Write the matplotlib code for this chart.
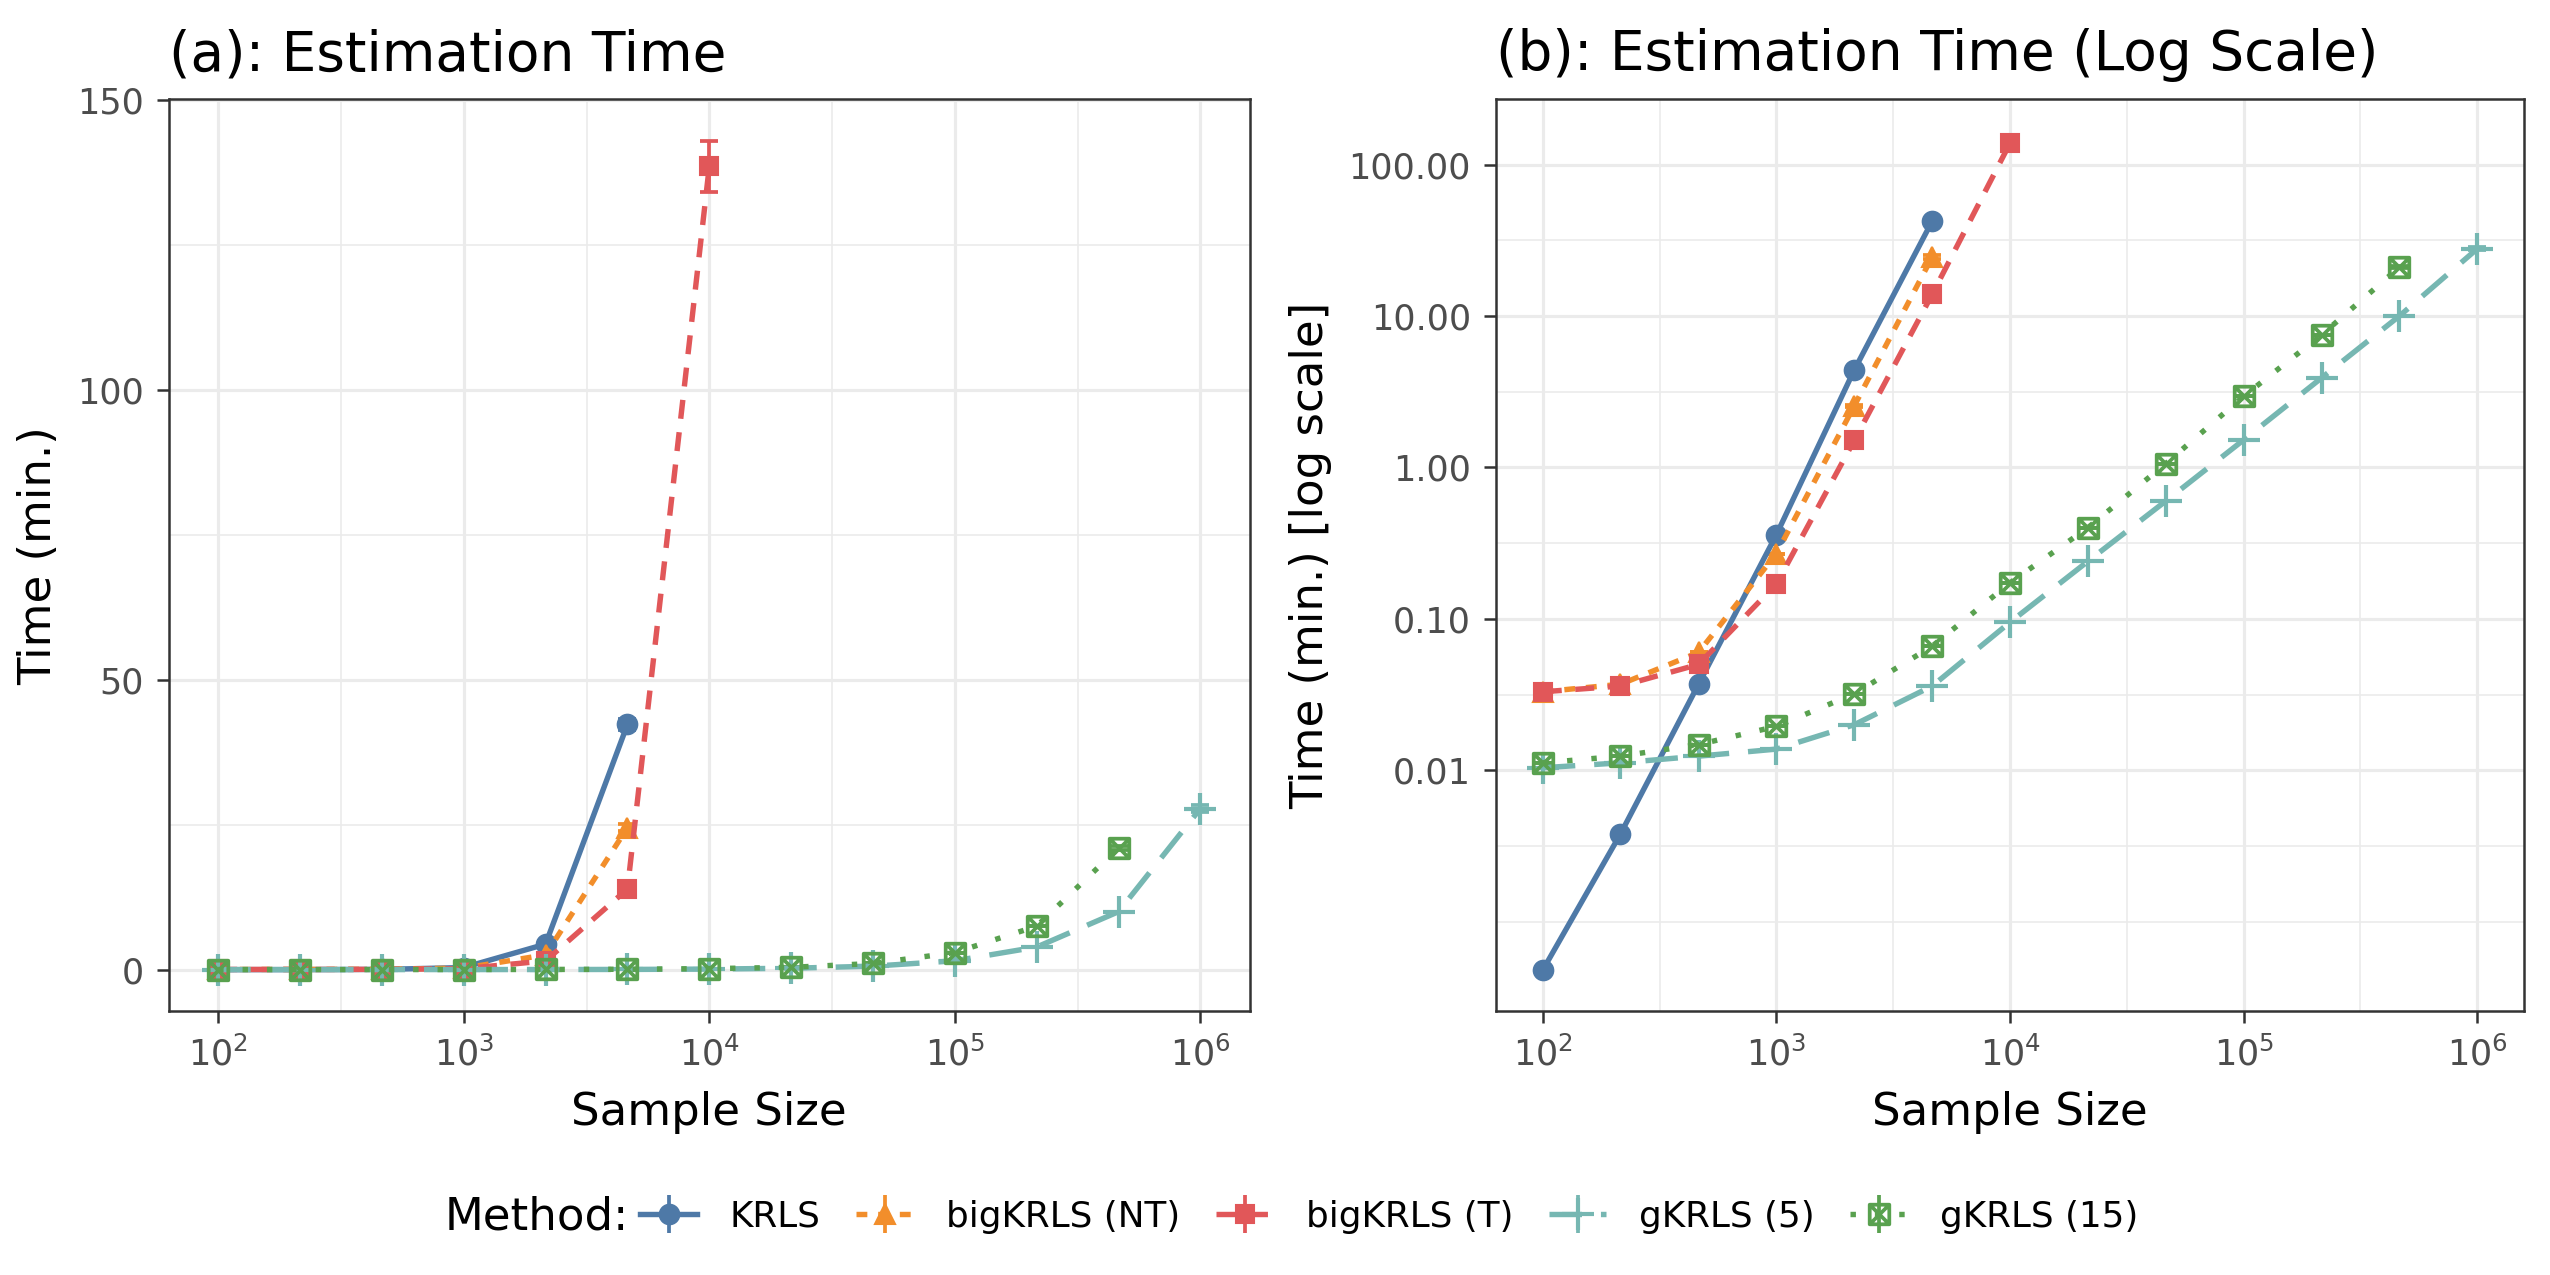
import matplotlib
matplotlib.use("Agg")
import matplotlib.pyplot as plt
from matplotlib.lines import Line2D
from matplotlib.path import Path
from matplotlib.ticker import FixedLocator, FixedFormatter, NullFormatter

plt.rcParams['font.family'] = ['DejaVu Sans']

# sample sizes (log spaced)
n = [100, 215, 464, 1000, 2154, 4642, 10000, 21544, 46416, 100000, 215443, 464159, 1000000]

# estimation time in minutes
krls = [0.00048, 0.0038, 0.037, 0.36, 4.4, 42.3]
krls_sd = [0, 0, 0, 0, 0.05, 1.0]
big_nt = [0.033, 0.037, 0.060, 0.27, 2.55, 24.5]
big_nt_sd = [0, 0, 0, 0, 0.05, 0.6]
big_t = [0.033, 0.036, 0.050, 0.17, 1.51, 13.9, 138.6]
big_t_sd = [0, 0, 0, 0, 0.03, 0.3, 4.35]
g5 = [0.0104, 0.0112, 0.0124, 0.0138, 0.020, 0.036, 0.095, 0.24, 0.60, 1.52, 3.9, 10.0, 27.8]
g5_sd = [0] * 12 + [0.6]
g15 = [0.0112, 0.0124, 0.0148, 0.0195, 0.032, 0.066, 0.173, 0.40, 1.06, 2.95, 7.5, 21.0]
g15_sd = [0] * 11 + [0.4]

methods = ['KRLS', 'bigKRLS (NT)', 'bigKRLS (T)', 'gKRLS (5)', 'gKRLS (15)']
colors = ['#4E79A7', '#F28E2B', '#E15759', '#76B7B2', '#59A14F']

# square with an X inside (ggplot shape 7)
sqx = Path([(-1, -1), (1, -1), (1, 1), (-1, 1), (-1, -1), (-1, -1), (1, 1), (-1, 1), (1, -1)],
           [Path.MOVETO, Path.LINETO, Path.LINETO, Path.LINETO, Path.CLOSEPOLY,
            Path.MOVETO, Path.LINETO, Path.MOVETO, Path.LINETO])

styles = [
    dict(ls='-', marker='o', ms=4.7, mfc=colors[0]),
    dict(ls=(0, (2.0, 2.0)), marker='^', ms=5.0, mfc=colors[1]),
    dict(ls=(0, (3.5, 2.5)), marker='s', ms=4.4, mfc=colors[2]),
    dict(ls=(0, (6, 3.5)), marker='+', ms=7.5, mew=1.0, mfc=colors[3]),
    dict(ls=(0, (1, 3.5)), marker=sqx, ms=4.7, mew=0.9, mfc='none'),
]
series = [(krls, krls_sd), (big_nt, big_nt_sd), (big_t, big_t_sd), (g5, g5_sd), (g15, g15_sd)]

fig = plt.figure(figsize=(8.5, 4.25), dpi=300)
ax1 = fig.add_axes([0.0663, 0.207, 0.4237, 0.715])
ax2 = fig.add_axes([0.5867, 0.207, 0.4031, 0.715])

for ax in [ax1, ax2]:
    for (vals, sd), c, st in zip(series, colors, styles):
        x = n[:len(vals)]
        ax.errorbar(x, vals, yerr=[sd, sd], fmt='none',
                    ecolor=c, elinewidth=0.9, capsize=2.2, capthick=0.9, zorder=3)
        ax.plot(x, vals, color=c, lw=1.3, ls=st['ls'], marker=st['marker'], ms=st['ms'],
                mfc=st['mfc'], mec=c, mew=st.get('mew', 0.5), zorder=4)
    ax.set_xscale('log')
    ax.set_xlim(10 ** 1.8, 10 ** 6.2)
    ax.xaxis.set_major_locator(FixedLocator([1e2, 1e3, 1e4, 1e5, 1e6]))
    ax.xaxis.set_minor_locator(FixedLocator([10 ** 2.5, 10 ** 3.5, 10 ** 4.5, 10 ** 5.5]))
    ax.xaxis.set_minor_formatter(NullFormatter())
    ax.grid(True, which='major', color='#EBEBEB', lw=0.75)
    ax.grid(True, which='minor', color='#EBEBEB', lw=0.4)
    ax.set_axisbelow(True)
    ax.tick_params(which='major', length=2.8, width=0.6, color='#333333', labelcolor='#4D4D4D',
                   labelsize=8.4, pad=3.2)
    ax.tick_params(which='minor', length=0)
    for sp in ax.spines.values():
        sp.set_color('#333333')
        sp.set_linewidth(0.6)
    ax.set_xlabel('Sample Size', fontsize=10.8, labelpad=4.5)

ax1.set_ylim(-7.15, 150.15)
ax1.yaxis.set_major_locator(FixedLocator([0, 50, 100, 150]))
ax1.yaxis.set_minor_locator(FixedLocator([25, 75, 125]))
ax1.set_ylabel('Time (min.)', fontsize=10.8, labelpad=4)
ax1.set_title('(a): Estimation Time', fontsize=13.2, loc='left', pad=7)

ax2.set_yscale('log')
ax2.set_ylim(10 ** -3.59, 10 ** 2.43)
yt = [0.01, 0.1, 1, 10, 100]
ax2.yaxis.set_major_locator(FixedLocator(yt))
ax2.yaxis.set_major_formatter(FixedFormatter(['0.01', '0.10', '1.00', '10.00', '100.00']))
ax2.yaxis.set_minor_locator(FixedLocator([1e-3, 10 ** -2.5, 10 ** -1.5, 10 ** -0.5, 10 ** 0.5, 10 ** 1.5]))
ax2.yaxis.set_minor_formatter(NullFormatter())
ax2.set_ylabel('Time (min.) [log scale]', fontsize=10.8, labelpad=4)
ax2.set_title('(b): Estimation Time (Log Scale)', fontsize=13.2, loc='left', pad=7)

handles = []
for c, st in zip(colors, styles):
    ln = Line2D([], [], color=c, lw=1.3, ls=st['ls'], marker=st['marker'], ms=st['ms'],
                mfc=st['mfc'], mec=c, mew=st.get('mew', 0.5))
    bar = Line2D([], [], color=c, ls='none', marker='|', ms=9, mew=0.9)
    handles.append((ln, bar))
fig.text(0.2466, 0.0457, 'Method:', fontsize=10.8, ha='right', va='center')
fig.legend(handles, methods, loc='center left', bbox_to_anchor=(0.251, 0.0457), ncol=5,
           frameon=False, fontsize=8.6, handlelength=1.6, handletextpad=0.9,
           columnspacing=1.0, borderpad=0, borderaxespad=0)

fig.savefig('out.png', dpi=300)
